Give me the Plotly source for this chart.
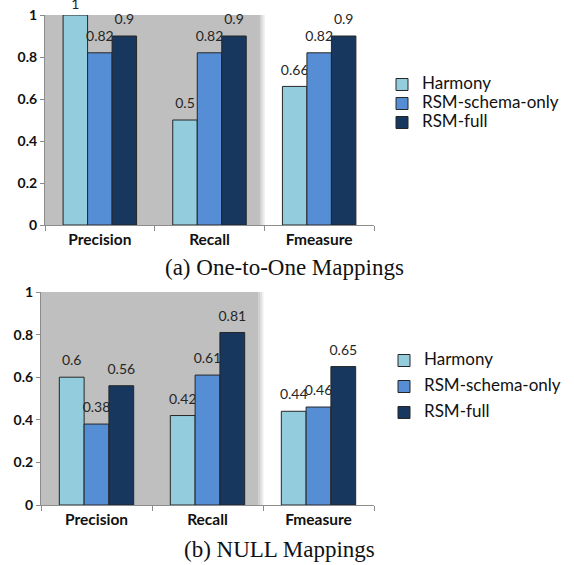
import plotly.graph_objects as go

categories = ["Precision", "Recall", "Fmeasure"]
series_names = ["Harmony", "RSM-schema-only", "RSM-full"]
colors = ["#93CDDD", "#558ED5", "#17375E"]

# (a) One-to-One Mappings
harmony_a = [1.0, 0.5, 0.66]
schema_a = [0.82, 0.82, 0.82]
full_a = [0.9, 0.9, 0.9]

# (b) NULL Mappings
harmony_b = [0.6, 0.42, 0.44]
schema_b = [0.38, 0.61, 0.46]
full_b = [0.56, 0.81, 0.65]

captions = ["(a) One-to-One Mappings", "(b) NULL Mappings"]
y_ticks = [0, 0.2, 0.4, 0.6, 0.8, 1]

W, H = 574, 565
SANS = "Lato, Open Sans, sans-serif"

LABEL = '<span style="font-size:14px">%{y}</span>'
LABEL_LIFTED = LABEL + '<br>&nbsp;'   # small spacer line lifts the label a bit

fig = go.Figure()

panels = [
    ([harmony_a, schema_a, full_a], "x", "y", "legend"),
    ([harmony_b, schema_b, full_b], "x2", "y2", "legend2"),
]
for vals, xa, ya, lg in panels:
    for name, v, c in zip(series_names, vals, colors):
        fig.add_trace(go.Bar(
            x=categories, y=v,
            name='<span style="font-size:17px">' + name + '</span>',
            xaxis=xa, yaxis=ya, legend=lg,
            legendgroup=name + lg,
            marker=dict(color=c, line=dict(color="#262626", width=1)),
            texttemplate=[LABEL if val >= 0.95 else LABEL_LIFTED for val in v],
            textposition="outside", cliponaxis=False,
            constraintext="none",
            textfont=dict(family=SANS, size=6, color="#262626"),
        ))


def dom_y(top_px, bottom_px):
    return [1 - bottom_px / H, 1 - top_px / H]


xaxis_common = dict(
    showline=True, linecolor="#8c8c8c", linewidth=1, automargin=False,
    ticks="outside", tickson="boundaries", ticklen=5, tickcolor="#8c8c8c",
    tickfont=dict(family=SANS, size=15.5, color="#111111", weight="bold"),
    showgrid=False, fixedrange=True,
)
yaxis_common = dict(
    range=[0, 1], tickvals=y_ticks, showline=True, linecolor="#8c8c8c",
    linewidth=1, showgrid=False, zeroline=False, automargin=False,
    ticks="outside", ticklen=4, tickcolor="#8c8c8c",
    tickfont=dict(family=SANS, size=14, color="#111111", weight="bold"),
)

fig.update_layout(
    width=W, height=H,
    margin=dict(l=0, r=0, t=0, b=0, autoexpand=False),
    paper_bgcolor="white", plot_bgcolor="white",
    barmode="group", bargap=0.33, bargroupgap=0,
    xaxis=dict(domain=[45 / W, 374 / W], anchor="y", **xaxis_common),
    yaxis=dict(domain=dom_y(15, 225), anchor="x", **yaxis_common),
    xaxis2=dict(domain=[41 / W, 374 / W], anchor="y2", **xaxis_common),
    yaxis2=dict(domain=dom_y(292, 505), anchor="x2", **yaxis_common),
    legend=dict(x=382 / W, y=1 - 70 / H, xanchor="left", yanchor="top",
                font=dict(family=SANS, size=11, color="#111111"),
                bgcolor="rgba(0,0,0,0)", tracegroupgap=0),
    legend2=dict(x=384 / W, y=1 - 346 / H, xanchor="left", yanchor="top",
                 font=dict(family=SANS, size=11, color="#111111"),
                 bgcolor="rgba(0,0,0,0)", tracegroupgap=7),
    showlegend=True,
)

# gray shading behind the first two categories
for xr, yr in [("x", "y"), ("x2", "y2")]:
    fig.add_shape(type="rect", xref=xr, yref=yr, x0=-0.5, x1=1.46, y0=0, y1=1,
                  fillcolor="#BFBFBF", line_width=0, layer="below")
    for i, op in enumerate([0.75, 0.5, 0.25]):
        fig.add_shape(type="rect", xref=xr, yref=yr,
                      x0=1.46 + i * 0.015, x1=1.475 + i * 0.015, y0=0, y1=1,
                      fillcolor="#BFBFBF", opacity=op, line_width=0, layer="below")

fig.add_annotation(text=captions[0], xref="paper", yref="paper",
                   x=284 / W, y=1 - 268 / H, showarrow=False,
                   xanchor="center", yanchor="middle",
                   font=dict(family="Liberation Serif", size=23, color="#111111"))
fig.add_annotation(text=captions[1], xref="paper", yref="paper",
                   x=279 / W, y=1 - 549 / H, showarrow=False,
                   xanchor="center", yanchor="middle",
                   font=dict(family="Liberation Serif", size=23, color="#111111"))

fig.write_html(
    "out.html",
    config={"displayModeBar": False},
    post_script="document.body.style.margin='0';document.body.style.padding='0';",
)
